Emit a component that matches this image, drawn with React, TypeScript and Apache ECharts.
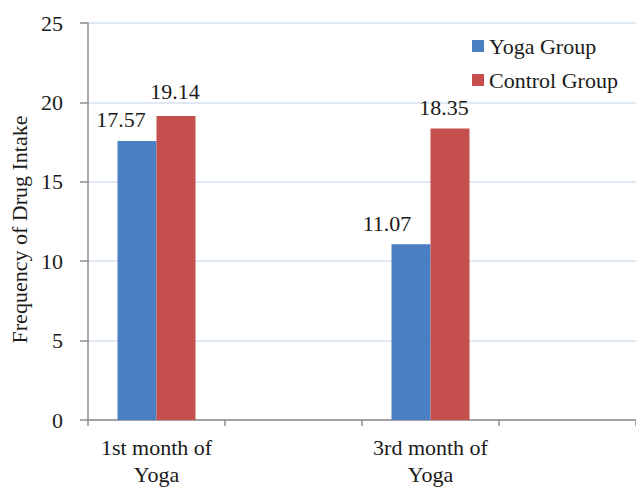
import React, { useEffect, useRef } from "react";
import * as echarts from "echarts";

const categories = ["1st month of\nYoga", "", "3rd month of\nYoga", ""];
const yogaGroup = [17.57, null, 11.07, null];
const controlGroup = [19.14, null, 18.35, null];
const seriesNames = ["Yoga Group", "Control Group"];
const yAxisName = "Frequency of Drug Intake";

// label placement (style only), matching the reference's hand-placed labels
const yogaLabelOffsets = [[-16, 0], [0, 0], [-24, 0], [0, 0]];
const controlLabelOffsets = [[-1, -4], [0, 0], [-6, 0], [0, 0]];

const FONT = "Liberation Serif";
const FS = 22;

function withOffsets(values: (number | null)[], offsets: number[][]) {
  return values.map((v, i) =>
    v == null ? null : { value: v, label: { offset: offsets[i] } }
  );
}

export default function App() {
  const ref = useRef<HTMLDivElement>(null);
  useEffect(() => {
    const chart = echarts.init(ref.current!, null, { renderer: "svg" });
    const labelStyle = {
      show: true,
      position: "top",
      distance: 10,
      fontFamily: FONT,
      fontSize: FS,
      color: "#1a1a1a",
    };
    chart.setOption({
      animation: false,
      backgroundColor: "#ffffff",
      textStyle: { fontFamily: FONT },
      grid: { left: 88, right: 0, top: 23, bottom: 68, containLabel: false, outerBoundsMode: "none" },
      legend: {
        orient: "vertical",
        left: 467,
        top: 30,
        itemWidth: 12,
        itemHeight: 12,
        itemGap: 12,
        icon: "rect",
        data: seriesNames,
        textStyle: { fontFamily: FONT, fontSize: FS, color: "#1a1a1a" },
      },
      xAxis: {
        type: "category",
        data: categories,
        axisLine: { lineStyle: { color: "#8c8c8c", width: 1.5 } },
        axisTick: { show: true, length: 6, alignWithLabel: false, lineStyle: { color: "#8c8c8c", width: 1.5 } },
        axisLabel: {
          interval: 0,
          margin: 14,
          fontFamily: FONT,
          fontSize: FS,
          lineHeight: 27,
          color: "#1a1a1a",
        },
        splitLine: { show: false },
      },
      yAxis: {
        type: "value",
        min: 0,
        max: 25,
        interval: 5,
        name: yAxisName,
        nameLocation: "middle",
        nameRotate: 90,
        nameGap: 55,
        nameTextStyle: { fontFamily: FONT, fontSize: FS, color: "#1a1a1a", padding: [0, 16, 0, 0] },
        axisLine: { show: true, lineStyle: { color: "#8c8c8c", width: 1.5 } },
        axisTick: { show: true, length: 8, lineStyle: { color: "#8c8c8c", width: 1.5 } },
        axisLabel: { margin: 25, fontFamily: FONT, fontSize: FS, color: "#1a1a1a" },
        splitLine: { show: true, lineStyle: { color: "#d5e0ef", width: 1.5 } },
      },
      series: [
        {
          name: seriesNames[0],
          type: "bar",
          data: withOffsets(yogaGroup, yogaLabelOffsets),
          barWidth: 39,
          barGap: "0%",
          itemStyle: { color: "#4a7fc1" },
          label: labelStyle,
        },
        {
          name: seriesNames[1],
          type: "bar",
          data: withOffsets(controlGroup, controlLabelOffsets),
          barWidth: 39,
          barGap: "0%",
          itemStyle: { color: "#c44f4d" },
          label: labelStyle,
        },
      ],
    });
    return () => chart.dispose();
  }, []);
  return <div ref={ref} style={{ width: 636, height: 488, position: "absolute", left: 0, top: 0 }} />;
}
